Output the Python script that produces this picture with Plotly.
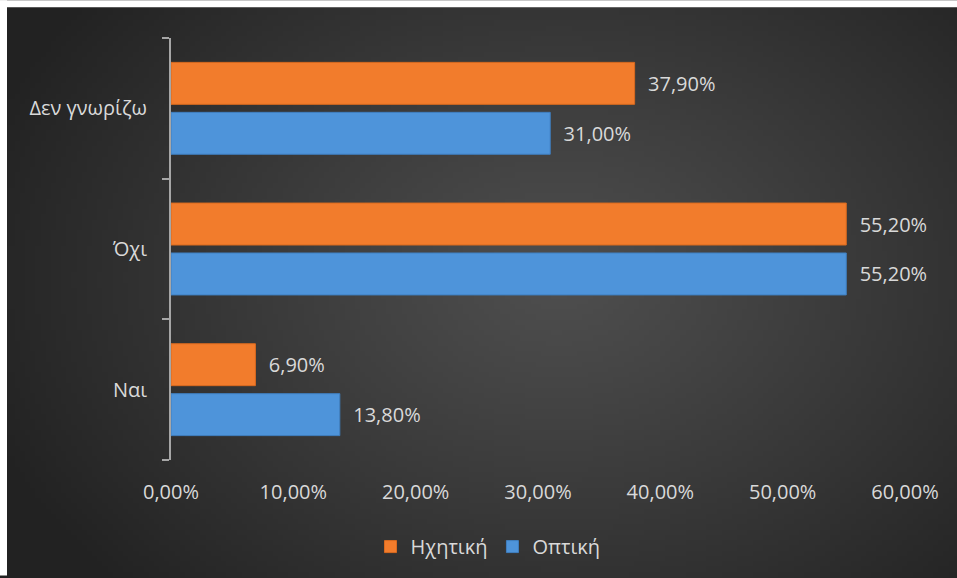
import base64
import struct
import zlib
import plotly.graph_objects as go

# ---- data ----
categories = ["Ναι", "Όχι", "Δεν γνωρίζω"]
optiki = [13.8, 55.2, 31.0]
ichitiki = [6.9, 55.2, 37.9]
series_names = ["Οπτική", "Ηχητική"]
x_tick_values = [0, 10, 20, 30, 40, 50, 60]


def fmt(v):
    return f"{v:.2f}%".replace(".", ",")


x_tick_labels = [fmt(v) for v in x_tick_values]

# ---- background radial gradient as PNG ----
def make_png(w, h, fn):
    raw = bytearray()
    for y in range(h):
        raw.append(0)
        for x in range(w):
            raw += bytes(fn(x, y))

    def chunk(t, d):
        c = struct.pack(">I", len(d)) + t + d
        return c + struct.pack(">I", zlib.crc32(t + d) & 0xFFFFFFFF)

    png = (b"\x89PNG\r\n\x1a\n"
           + chunk(b"IHDR", struct.pack(">IIBBBBB", w, h, 8, 2, 0, 0, 0))
           + chunk(b"IDAT", zlib.compress(bytes(raw), 9))
           + chunk(b"IEND", b""))
    return "data:image/png;base64," + base64.b64encode(png).decode()


W, H = 190, 114


def grad(x, y):
    cx, cy = W * 0.56, H * 0.45
    rx, ry = W * 0.62, H * 0.75
    t = (((x - cx) / rx) ** 2 + ((y - cy) / ry) ** 2) ** 0.5
    t = min(t, 1.0)
    c0, c1 = 0x4E, 0x22
    v = int(round(c0 + (c1 - c0) * t ** 1.1))
    return (v, v, v)


bg_src = make_png(W, H, grad)

# ---- geometry (px) ----
FIG_W, FIG_H = 957, 578
L, R, T, B = 171, 52, 38, 116
PW = FIG_W - L - R
PH = FIG_H - T - B
DARK_X0, DARK_Y0 = 7, 7
EXT = 30  # let the background image run past the page edges

txt_col = "#d9d9d9"
font_family = "Open Sans, Noto Sans, sans-serif"
FS = 20

fig = go.Figure()
fig.add_trace(go.Bar(
    y=categories, x=optiki, name=series_names[0], orientation="h",
    marker=dict(color="#4e94da", line=dict(color="#3f7fc0", width=1)),
    text=["\u00a0\u00a0" + fmt(v) for v in optiki], textposition="outside",
    textfont=dict(color=txt_col, size=FS, family=font_family),
    cliponaxis=False, hoverinfo="skip",
))
fig.add_trace(go.Bar(
    y=categories, x=ichitiki, name=series_names[1], orientation="h",
    marker=dict(color="#f27c2c", line=dict(color="#d96a1f", width=1)),
    text=["\u00a0\u00a0" + fmt(v) for v in ichitiki], textposition="outside",
    textfont=dict(color=txt_col, size=FS, family=font_family),
    cliponaxis=False, hoverinfo="skip",
))

# white strips along the top and left edges
white_strips = [
    dict(type="rect", xref="paper", yref="paper", layer="above",
         x0=-L / PW, x1=1 + R / PW, y0=1 + (T - DARK_Y0) / PH, y1=1 + T / PH,
         fillcolor="white", line=dict(width=0)),
    dict(type="rect", xref="paper", yref="paper", layer="above",
         x0=-L / PW, x1=(DARK_X0 - L) / PW, y0=-B / PH, y1=1 + T / PH,
         fillcolor="white", line=dict(width=0)),
]

fig.update_layout(
    width=FIG_W, height=FIG_H,
    margin=dict(l=L, r=R, t=T, b=B, pad=0),
    paper_bgcolor="#222222", plot_bgcolor="rgba(0,0,0,0)",
    barmode="group", bargap=0.29, bargroupgap=0.16,
    font=dict(family=font_family, color=txt_col, size=FS),
    showlegend=True,
    legend=dict(orientation="h", traceorder="reversed",
                x=(488 - L) / PW, xanchor="center",
                y=(T + PH - 549) / PH, yanchor="middle",
                bgcolor="rgba(0,0,0,0)", font=dict(size=FS, color=txt_col)),
    xaxis=dict(range=[0, 60], tickvals=x_tick_values, ticktext=x_tick_labels,
               showgrid=False, zeroline=False, showline=False, ticks="",
               ticklabelstandoff=18, tickfont=dict(size=FS, color=txt_col)),
    yaxis=dict(type="category", categoryorder="array", categoryarray=categories,
               showgrid=False, zeroline=False, showline=True,
               linecolor="#a6a6a6", linewidth=2,
               ticks="outside", tickson="boundaries", ticklen=7, tickwidth=2,
               tickcolor="#a6a6a6", ticklabelstandoff=18,
               tickfont=dict(size=FS, color=txt_col)),
    images=[dict(source=bg_src, xref="paper", yref="paper",
                 x=(DARK_X0 - L) / PW, y=1 + (T - DARK_Y0) / PH,
                 sizex=(FIG_W - DARK_X0 + EXT) / PW,
                 sizey=(FIG_H - DARK_Y0 + EXT) / PH,
                 sizing="stretch", xanchor="left", yanchor="top", layer="below")],
    shapes=white_strips,
)

fig.write_html(
    "out.html",
    config={"displayModeBar": False},
    post_script="document.body.style.margin='0';document.body.style.overflow='hidden';",
)
